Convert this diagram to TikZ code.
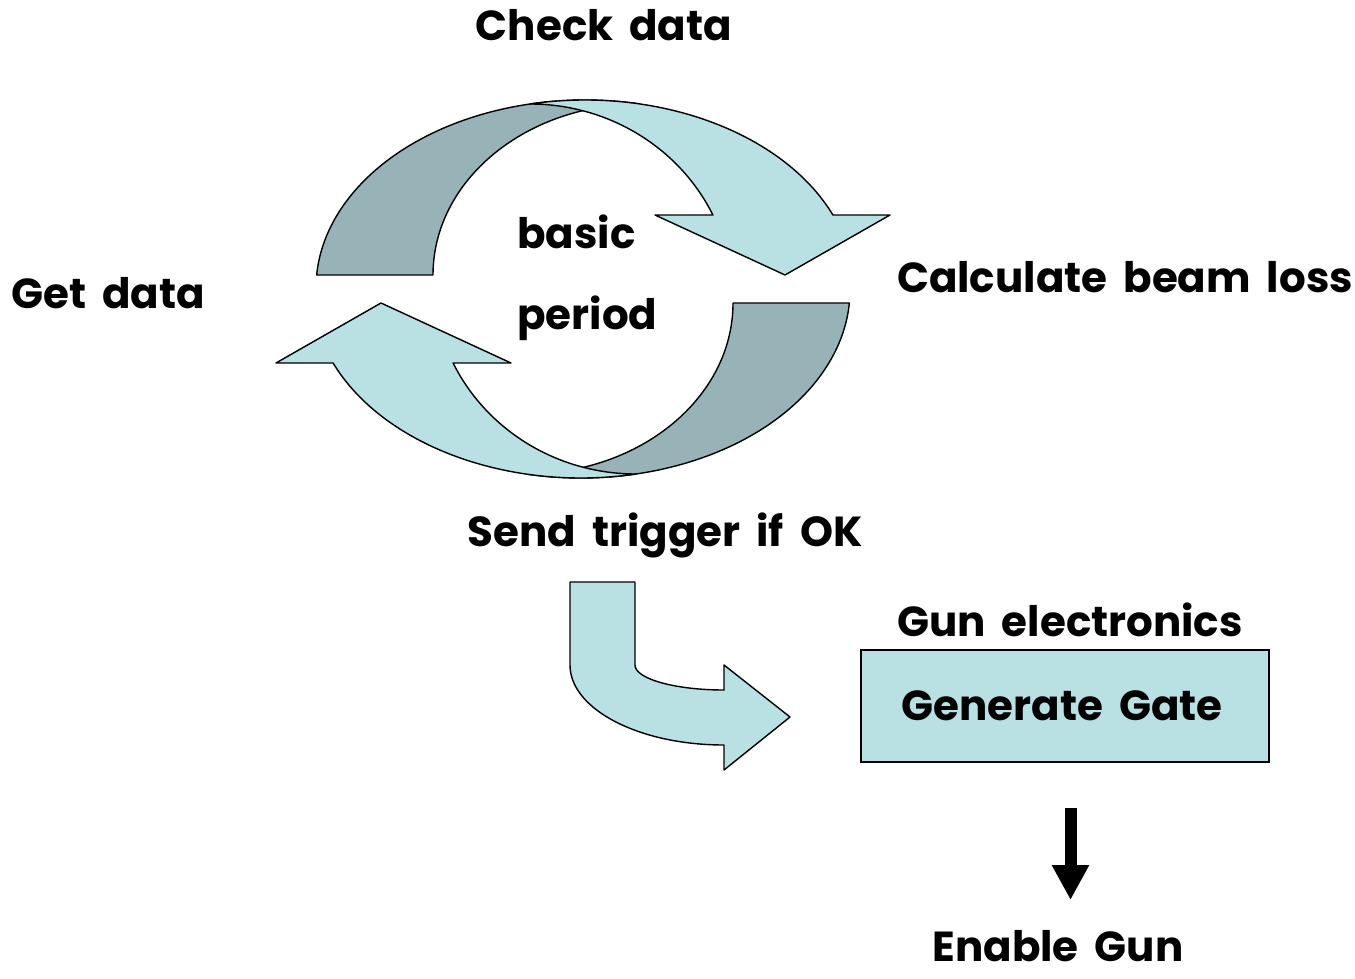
\documentclass[tikz,border=0pt]{standalone}
\usepackage{fontspec}
\setmainfont{Poppins}[WordSpace=1.8]
\usetikzlibrary{arrows.meta}
\definecolor{looplight}{HTML}{B9E0E3}
\definecolor{loopdark}{HTML}{97B3B7}

\tikzset{
  steplabel/.style={font=\fontsize{21}{25}\selectfont\bfseries, inner sep=0pt},
  band/.style={draw=black, line width=0.7pt, line join=round},
  gatebox/.style={draw=black, line width=1pt, fill=looplight, minimum width=204pt, minimum height=56pt},
  gunarrow/.style={line width=6pt, -{Triangle[width=17.5pt, length=17.5pt]}},
}

\begin{document}
\begin{tikzpicture}[x=1pt, y=1pt, xscale=0.5, yscale=-0.5]
  \useasboundingbox (0,0) rectangle (1355,979);

  % the loop, lower half is the upper half turned round
  \foreach \turn in {0,180} {
    \begin{scope}[rotate around={\turn:(583,289)}]
      % back side of the band
      \draw[band, fill=loopdark] (316.6,275) -- (433,275)
        arc[start angle=180, end angle=270, x radius=207pt, y radius=171pt]
        arc[start angle=281.8, end angle=183.97, x radius=269pt, y radius=188pt]
        -- cycle;
      % front side with the head
      \draw[band, fill=looplight] (530,104)
        arc[start angle=270, end angle=334.3, x radius=203pt, y radius=196pt]
        -- (655,215) -- (785,275) -- (890,215) -- (832.9,215)
        arc[start angle=337.15, end angle=258.2, x radius=269pt, y radius=188pt]
        -- cycle;
    \end{scope}
  }

  \node[steplabel] (checkdata) at (604,25) {Check data};
  \node[steplabel] (calcloss) at (1125,277) {Calculate beam loss};
  \node[steplabel] (getdata) at (108,293) {Get data};
  \node[steplabel, anchor=west] (basic) at (517,232) {basic};
  \node[steplabel, anchor=west] (period) at (517,318) {period};
  \node[steplabel] (sendtrig) at (665,535) {Send trigger if OK};

  % bent arrow down to the gun
  \draw[band, fill=looplight] (570,582) -- (635,582) -- (635,665)
    arc[start angle=180, end angle=90, x radius=89pt, y radius=25pt]
    -- (724,665) -- (790,717) -- (724,770) -- (724,745)
    arc[start angle=90, end angle=180, x radius=154pt, y radius=80pt]
    -- cycle;

  \node[steplabel] (gunelec) at (1070,620) {Gun electronics};
  \node[gatebox] (gate) at (1065,706) {};
  \node[steplabel] (gatetext) at (1062,706) {Generate Gate};

  \draw[gunarrow, shorten <=22.5pt] ([xshift=5.5pt]gate.south) -- ++(0,137);
  \node[steplabel] (enable) at (1058,946) {Enable Gun};
\end{tikzpicture}
\end{document}
